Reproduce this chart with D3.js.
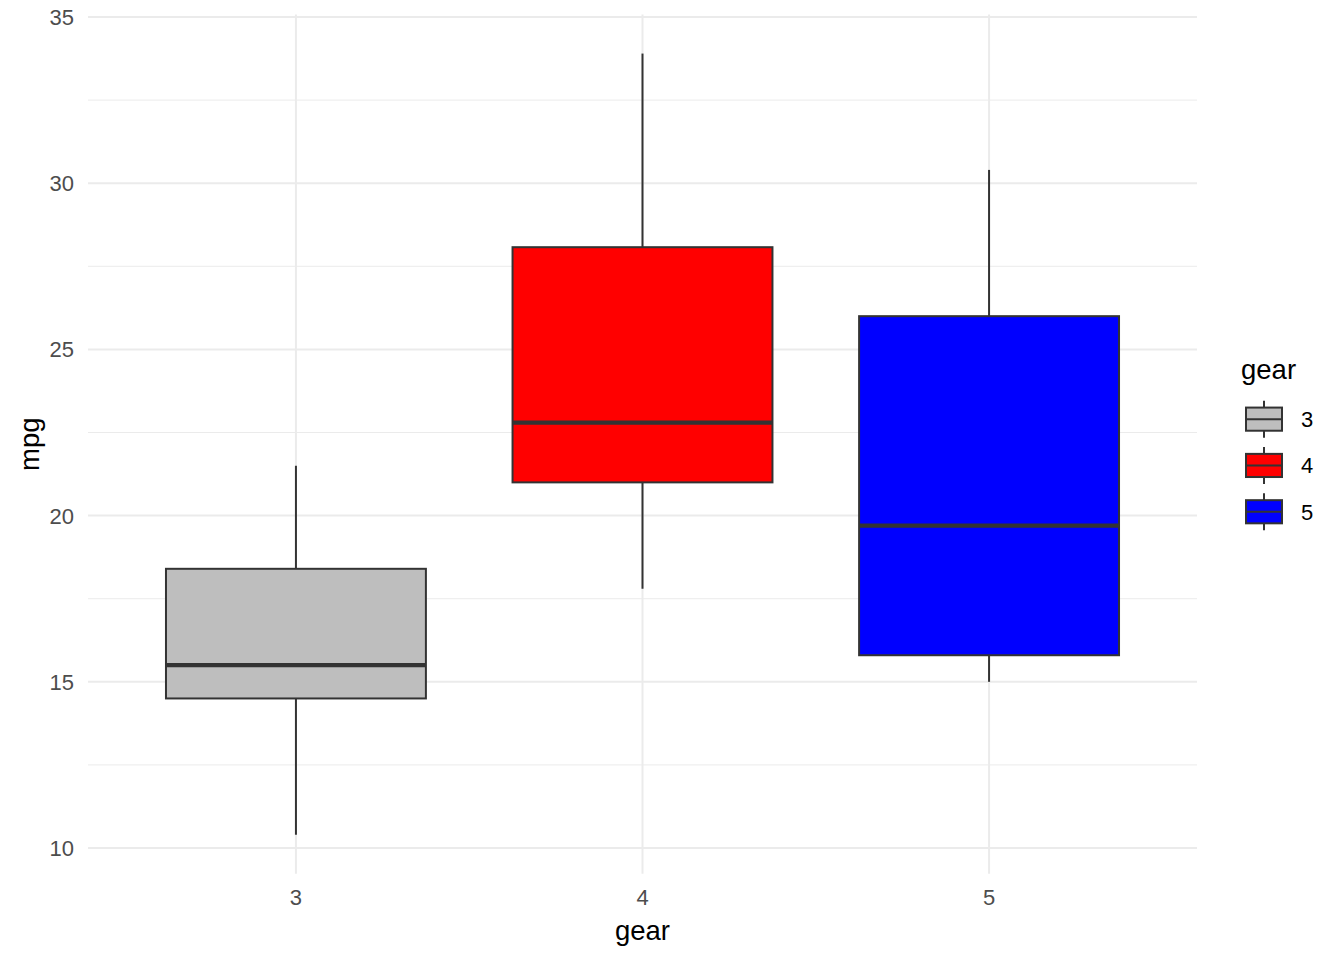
<!DOCTYPE html>
<html><head><meta charset="utf-8">
<script src="https://cdn.jsdelivr.net/npm/d3@7"></script>
<style>body{margin:0;background:#fff}svg{display:block;font-family:"Liberation Sans",Arial,sans-serif}</style>
</head><body>
<script>
const gears = ["3","4","5"];
const lowerWhisker = [10.4, 17.8, 15.0];
const q1 = [14.5, 21.0, 15.8];
const medians = [15.5, 22.8, 19.7];
const q3 = [18.4, 28.075, 26.0];
const upperWhisker = [21.5, 33.9, 30.4];
const fills = ["#bebebe", "#ff0000", "#0000ff"];
const yTicks = [10, 15, 20, 25, 30, 35];
const yMinor = [12.5, 17.5, 22.5, 27.5, 32.5];

const W = 1344, H = 960;
const L = 88, R = 1197, T = 14.5, B = 873.8;
const svg = d3.select("body").append("svg").attr("width", W).attr("height", H);

const y = d3.scaleLinear().domain([9.225, 35.075]).range([B, T]);
const x = d3.scaleLinear().domain([0.4, 3.6]).range([L, R]);
const xc = i => x(i + 1);
const bw = x(0.75) - x(0);

const g = svg.append("g");
g.selectAll(".ymin").data(yMinor).join("line")
  .attr("x1", L).attr("x2", R).attr("y1", d => y(d)).attr("y2", d => y(d))
  .attr("stroke", "#ebebeb").attr("stroke-width", 1);
g.selectAll(".ymaj").data(yTicks).join("line")
  .attr("x1", L).attr("x2", R).attr("y1", d => y(d)).attr("y2", d => y(d))
  .attr("stroke", "#ebebeb").attr("stroke-width", 2);
g.selectAll(".xmaj").data(gears).join("line")
  .attr("x1", (d, i) => xc(i)).attr("x2", (d, i) => xc(i)).attr("y1", T).attr("y2", B)
  .attr("stroke", "#ebebeb").attr("stroke-width", 2);

svg.selectAll(".yt").data(yTicks).join("text")
  .attr("x", 74).attr("y", d => y(d)).attr("dy", "0.36em")
  .attr("text-anchor", "end").attr("font-size", 22).attr("fill", "#4d4d4d").text(d => d);
svg.selectAll(".xt").data(gears).join("text")
  .attr("x", (d, i) => xc(i)).attr("y", 905)
  .attr("text-anchor", "middle").attr("font-size", 22).attr("fill", "#4d4d4d").text(d => d);

svg.append("text").attr("x", (L + R) / 2).attr("y", 940).attr("text-anchor", "middle")
  .attr("font-size", 27.5).attr("fill", "#000").text("gear");
svg.append("text").attr("transform", `translate(39,${(T + B) / 2}) rotate(-90)`).attr("text-anchor", "middle")
  .attr("font-size", 27.5).attr("fill", "#000").text("mpg");

const bx = svg.append("g");
gears.forEach((gr, i) => {
  const cx = xc(i);
  bx.append("line").attr("x1", cx).attr("x2", cx).attr("y1", y(upperWhisker[i])).attr("y2", y(q3[i]))
    .attr("stroke", "#333333").attr("stroke-width", 2);
  bx.append("line").attr("x1", cx).attr("x2", cx).attr("y1", y(q1[i])).attr("y2", y(lowerWhisker[i]))
    .attr("stroke", "#333333").attr("stroke-width", 2);
  bx.append("rect").attr("x", cx - bw / 2).attr("width", bw)
    .attr("y", y(q3[i])).attr("height", y(q1[i]) - y(q3[i]))
    .attr("fill", fills[i]).attr("stroke", "#333333").attr("stroke-width", 2);
  bx.append("line").attr("x1", cx - bw / 2).attr("x2", cx + bw / 2).attr("y1", y(medians[i])).attr("y2", y(medians[i]))
    .attr("stroke", "#333333").attr("stroke-width", 4.3);
});

const lg = svg.append("g");
lg.append("text").attr("x", 1241).attr("y", 379).attr("font-size", 27.5).attr("fill", "#000").text("gear");
const keyH = 46.3, keyTop = 396, kcx = 1264;
gears.forEach((gr, i) => {
  const top = keyTop + i * keyH;
  lg.append("line").attr("x1", kcx).attr("x2", kcx).attr("y1", top + 0.1 * keyH).attr("y2", top + 0.9 * keyH)
    .attr("stroke", "#333333").attr("stroke-width", 2);
  lg.append("rect").attr("x", 1246).attr("width", 36).attr("y", top + 0.25 * keyH).attr("height", 0.5 * keyH)
    .attr("fill", fills[i]).attr("stroke", "#333333").attr("stroke-width", 2);
  lg.append("line").attr("x1", 1246).attr("x2", 1282).attr("y1", top + 0.5 * keyH).attr("y2", top + 0.5 * keyH)
    .attr("stroke", "#333333").attr("stroke-width", 2);
  lg.append("text").attr("x", 1301).attr("y", top + 0.5 * keyH).attr("dy", "0.36em")
    .attr("font-size", 22).attr("fill", "#000").text(gr);
});
</script>
</body></html>
